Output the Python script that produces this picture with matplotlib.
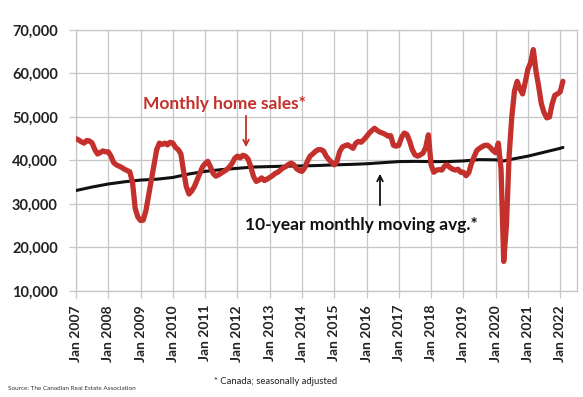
import matplotlib
matplotlib.use("Agg")
import matplotlib.pyplot as plt
from matplotlib.ticker import FuncFormatter

plt.rcParams['font.family'] = ['Lato', 'DejaVu Sans']

# ---- data ----
start_year = 2007
sales_2007 = [45000, 44700, 44300, 44000, 44600, 44500, 44000, 42500, 41500, 41800, 42200, 42000]
sales_2008 = [42000, 41000, 39500, 39000, 38700, 38400, 38000, 37700, 37400, 35000, 29000, 27000]
sales_2009 = [26200, 26300, 28500, 32000, 35500, 39000, 42500, 44000, 43700, 44000, 43600, 44200]
sales_2010 = [44000, 43000, 42500, 41500, 37500, 34000, 32300, 33000, 34000, 35500, 37000, 38500]
sales_2011 = [39300, 39800, 38500, 37000, 36400, 36700, 37100, 37500, 37900, 38500, 39300, 40500]
sales_2012 = [41000, 40600, 41200, 41000, 40300, 38500, 36300, 35200, 35500, 36000, 35400, 35700]
sales_2013 = [36100, 36500, 37000, 37300, 37800, 38300, 38600, 39100, 39400, 39000, 38100, 37700]
sales_2014 = [37500, 38300, 39800, 41000, 41500, 42100, 42500, 42500, 42200, 41000, 40200, 39600]
sales_2015 = [39000, 39800, 42000, 43100, 43400, 43600, 43200, 42800, 44000, 44400, 44200, 44800]
sales_2016 = [45500, 46300, 46900, 47400, 46900, 46500, 46300, 46000, 45600, 45700, 43500, 43300]
sales_2017 = [43500, 45300, 46300, 46000, 44500, 42500, 41300, 41000, 41300, 41700, 43000, 45900]
sales_2018 = [39000, 37300, 37800, 37900, 37800, 38700, 39000, 38400, 38000, 37800, 38000, 37300]
sales_2019 = [37300, 36500, 37200, 39300, 40900, 42300, 42800, 43200, 43500, 43500, 43000, 42300]
sales_2020 = [41800, 44000, 38000, 16800, 25000, 41000, 50000, 56000, 58200, 56500, 55300, 58000]
sales_2021 = [61000, 62500, 65500, 60500, 57000, 53000, 51000, 49800, 50000, 53000, 55000, 55300]
sales_2022 = [55800, 58200]

ma_dates = ["2007-01", "2007-07", "2008-01", "2008-07", "2009-01", "2009-07", "2010-01", "2010-07",
            "2011-01", "2011-07", "2012-01", "2012-07", "2013-01", "2013-07", "2014-01", "2014-07",
            "2015-01", "2015-07", "2016-01", "2016-07", "2017-01", "2017-07", "2018-01", "2018-07",
            "2019-01", "2019-07", "2020-01", "2020-04", "2020-07", "2021-01", "2021-07", "2022-01",
            "2022-02"]
ma_values = [33100, 33900, 34600, 35100, 35500, 35700, 36100, 36900,
             37500, 37900, 38200, 38500, 38600, 38700, 38750, 38850,
             39000, 39100, 39250, 39500, 39750, 39800, 39750, 39750,
             39900, 40200, 40150, 39900, 40300, 41000, 41900, 42800,
             43000]

tick_years = list(range(2007, 2023))
tick_labels = [f"Jan {y}" for y in tick_years]
y_ticks = [10000, 20000, 30000, 40000, 50000, 60000, 70000]

sales = (sales_2007 + sales_2008 + sales_2009 + sales_2010 + sales_2011 + sales_2012 +
         sales_2013 + sales_2014 + sales_2015 + sales_2016 + sales_2017 + sales_2018 +
         sales_2019 + sales_2020 + sales_2021 + sales_2022)
sales_x = [start_year + i / 12 for i in range(len(sales))]
ma_x = [int(d[:4]) + (int(d[5:]) - 1) / 12 for d in ma_dates]

# ---- figure ----
W, H = 583, 397
fig = plt.figure(figsize=(W / 100, H / 100), dpi=100)
ax = fig.add_axes([76 / W, 1 - 291 / H, (577 - 76) / W, (291 - 30) / H])

RED = '#C4302B'
GRID = '#C6C6C6'

ax.plot(ma_x, ma_values, color='#111111', lw=2.2, solid_capstyle='round', zorder=3)
ax.plot(sales_x, sales, color=RED, lw=3.8, solid_capstyle='round', solid_joinstyle='round', zorder=4)

ax.set_xlim(2007, 2022.52)
ax.set_ylim(10000, 70000)
ax.set_xticks(tick_years)
ax.set_xticklabels(tick_labels, rotation=90, fontsize=10, fontweight='bold', color='#222222')
ax.set_yticks(y_ticks)
ax.yaxis.set_major_formatter(FuncFormatter(lambda v, p: f"{int(v):,}"))
for lab in ax.get_yticklabels():
    lab.set_fontweight('bold')
    lab.set_fontsize(10.5)
    lab.set_color('#222222')

ax.grid(True, color=GRID, lw=0.9)
ax.set_axisbelow(True)
for s in ax.spines.values():
    s.set_color(GRID)
    s.set_linewidth(0.9)
ax.tick_params(axis='both', length=5, color=GRID, width=0.9)
ax.tick_params(axis='y', pad=8)
ax.tick_params(axis='x', pad=5)

# ---- annotations ----
fig.text(143 / W, 1 - 109 / H, "Monthly home sales*", color=RED, fontsize=12.5,
         fontweight='bold', ha='left', va='baseline')
fig.text(245 / W, 1 - 230 / H, "10-year monthly moving avg.*", color='#111111', fontsize=12.5,
         fontweight='bold', ha='left', va='baseline')

ax.annotate('', xy=(246, H - 150), xytext=(246, H - 113), xycoords='figure pixels',
            textcoords='figure pixels',
            arrowprops=dict(arrowstyle='->', color=RED, lw=1.3, mutation_scale=10))
ax.annotate('', xy=(380, H - 171), xytext=(380, H - 208), xycoords='figure pixels',
            textcoords='figure pixels',
            arrowprops=dict(arrowstyle='->', color='#111111', lw=1.3, mutation_scale=10))

fig.text(276 / W, 1 - 381 / H, "* Canada; seasonally adjusted", fontsize=6.8,
         color='#222222', ha='center', va='center')
fig.text(8 / W, 1 - 389 / H, "Source: The Canadian Real Estate Association", fontsize=4.6,
         color='#333333', ha='left', va='center')

fig.savefig('out.png', dpi=100)
